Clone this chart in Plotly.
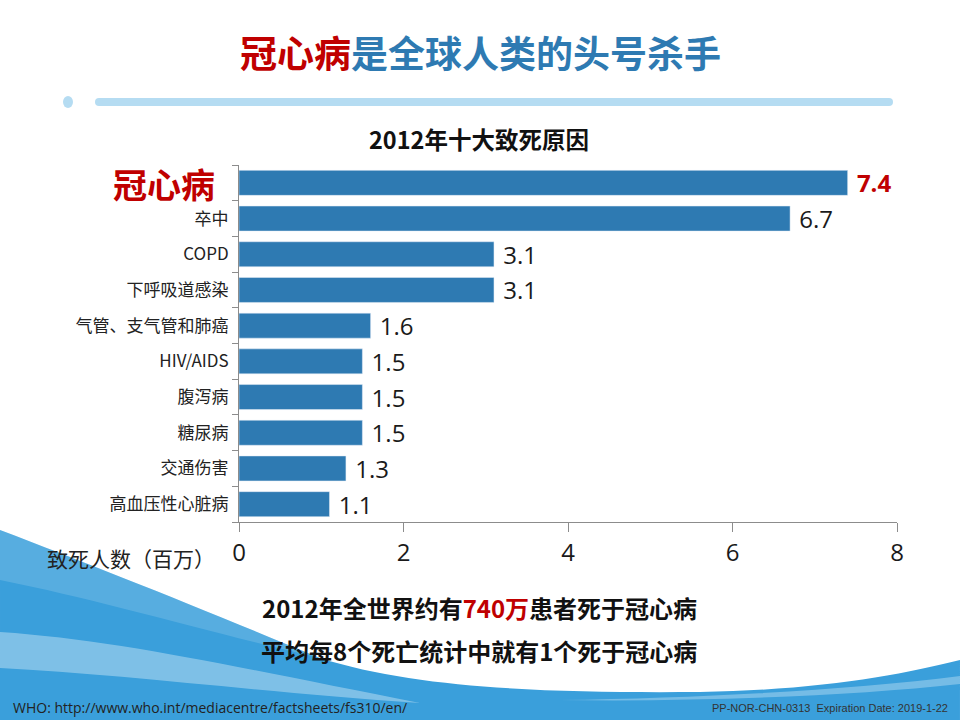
import plotly.graph_objects as go

# Data (top to bottom)
causes = ["冠心病", "卒中", "COPD", "下呼吸道感染", "气管、支气管和肺癌",
          "HIV/AIDS", "腹泻病", "糖尿病", "交通伤害", "高血压性心脏病"]
deaths = [7.4, 6.7, 3.1, 3.1, 1.6, 1.5, 1.5, 1.5, 1.3, 1.1]
x_ticks = [0, 2, 4, 6, 8]

BLUE = "#2e7ab2"
RED = "#c00000"
CJK = "Noto Sans CJK SC"
NUM = "Open Sans, Noto Sans CJK SC"

# plot area in pixels, used to place the slide decorations
L, R, T, B = 239, 897, 165, 522
PW, PH = R - L, B - T


def px_x(p):
    return (p - L) / PW


def px_y(p):
    return (B - p) / PH


def path(cmds):
    # cmds: list of (letter, [(x, y), ...]) in pixels -> paper path string
    out = []
    for c, pts in cmds:
        out.append(c + " ".join(f"{px_x(a):.4f},{px_y(b):.4f}" for a, b in pts))
    return " ".join(out) + " Z"


labels = [f"<b>{v:.1f}</b>" if i == 0 else f"{v:.1f}" for i, v in enumerate(deaths)]
label_colors = [RED] + ["#1a1a1a"] * (len(deaths) - 1)

fig = go.Figure(go.Bar(
    x=deaths, y=causes, orientation="h",
    marker_color=BLUE, width=0.7,
    text=["\u00a0" + t for t in labels], textposition="outside",
    textfont=dict(family=NUM, size=24, color=label_colors),
    constraintext="none", cliponaxis=False, hoverinfo="x+y",
))

fig.update_yaxes(
    autorange="reversed", tickson="boundaries",
    tickvals=causes, ticktext=[""] + causes[1:],
    ticks="outside", ticklen=6, tickcolor="#8c8c8c",
    showline=True, linecolor="#8c8c8c", linewidth=1,
    tickfont=dict(family=CJK, size=17, color="#222222"),
    ticklabelstandoff=6, showgrid=False,
)
fig.update_xaxes(
    range=[0, 8], tickvals=x_ticks, ticks="outside", ticklen=9,
    tickcolor="#8c8c8c", showline=True, linecolor="#8c8c8c", linewidth=1,
    tickfont=dict(family=NUM, size=24, color="#1a1a1a"),
    showgrid=False, zeroline=False,
)

wave_top = [("M", [(0, 530)]),
            ("C", [(100, 568), (200, 608), (320, 658)]),
            ("C", [(420, 690), (560, 693), (700, 692)]),
            ("C", [(820, 690), (900, 675), (960, 660)])]

shapes = [
    # blue swoosh at the bottom of the slide
    dict(type="path", xref="paper", yref="paper", layer="below", line_width=0,
         fillcolor="#3a9fdb",
         path=path(wave_top + [("L", [(960, 720)]), ("L", [(0, 720)])])),
    dict(type="path", xref="paper", yref="paper", layer="below", line_width=0,
         fillcolor="rgba(255,255,255,0.15)",
         path=path([("M", [(0, 530)]),
                    ("C", [(100, 568), (200, 608), (320, 658)]),
                    ("C", [(200, 630), (100, 600), (0, 580)])])),
    # glossy streak
    dict(type="path", xref="paper", yref="paper", layer="below", line_width=0,
         fillcolor="rgba(255,255,255,0.35)",
         path=path([("M", [(0, 632)]),
                    ("C", [(120, 640), (240, 668), (420, 703)]),
                    ("C", [(260, 692), (120, 674), (0, 668)])])),
    dict(type="path", xref="paper", yref="paper", layer="below", line_width=0,
         fillcolor="rgba(255,255,255,0.3)",
         path=path([("M", [(560, 700)]),
                    ("C", [(700, 698), (850, 690), (960, 676)]),
                    ("L", [(960, 684)]),
                    ("C", [(850, 696), (700, 702), (560, 700)])])),
    # header rule
    dict(type="rect", xref="paper", yref="paper", line_width=0,
         fillcolor="#b5dcf2",
         x0=px_x(99), x1=px_x(889), y0=px_y(106), y1=px_y(98)),
    dict(type="circle", xref="paper", yref="paper", line_width=0,
         fillcolor="#b5dcf2",
         x0=px_x(95), x1=px_x(103), y0=px_y(106), y1=px_y(98)),
    dict(type="circle", xref="paper", yref="paper", line_width=0,
         fillcolor="#b5dcf2",
         x0=px_x(885), x1=px_x(893), y0=px_y(106), y1=px_y(98)),
    dict(type="circle", xref="paper", yref="paper", line_width=0,
         fillcolor="#b5dcf2",
         x0=px_x(63), x1=px_x(73), y0=px_y(108), y1=px_y(96)),
]


def note(text, px, py, size, color="#111111", xanchor="center", family=CJK):
    return dict(text=text, x=px_x(px), y=px_y(py), xref="paper", yref="paper",
                xanchor=xanchor, yanchor="middle", showarrow=False,
                font=dict(family=family, size=size, color=color))


annotations = [
    note(f"<b><span style='color:{RED}'>冠心病</span>是全球人类的头号杀手</b>",
         480, 52, 37, BLUE),
    note("<b>2012年十大致死原因</b>", 479, 139, 23.5),
    note(f"<b>{causes[0]}</b>", 217, 183, 34, RED, "right"),
    note("致死人数（百万）", 217, 558, 21, "#222222", "right"),
    note(f"<b>2012年全世界约有<span style='color:{RED}'>740万</span>患者死于冠心病</b>",
         479, 607, 24),
    note("<b>平均每8个死亡统计中就有1个死于冠心病</b>", 479, 650, 24),
    note("WHO: http://www.who.int/mediacentre/factsheets/fs310/en/", 11, 707, 14,
         "#222222", "left", "Open Sans"),
    note("PP-NOR-CHN-0313  Expiration Date: 2019-1-22", 950, 708, 11,
         "#333333", "right", "Liberation Sans"),
]

fig.update_layout(
    width=960, height=720, autosize=False,
    margin=dict(l=L, r=960 - R, t=T, b=720 - B),
    paper_bgcolor="white", plot_bgcolor="rgba(0,0,0,0)",
    showlegend=False, shapes=shapes, annotations=annotations,
    bargap=0.3,
)

# drop the page's default body margin so the slide sits at the window corner
fig.write_html("out.html", config={"displayModeBar": False},
               post_script="document.body.style.margin = '0';")
